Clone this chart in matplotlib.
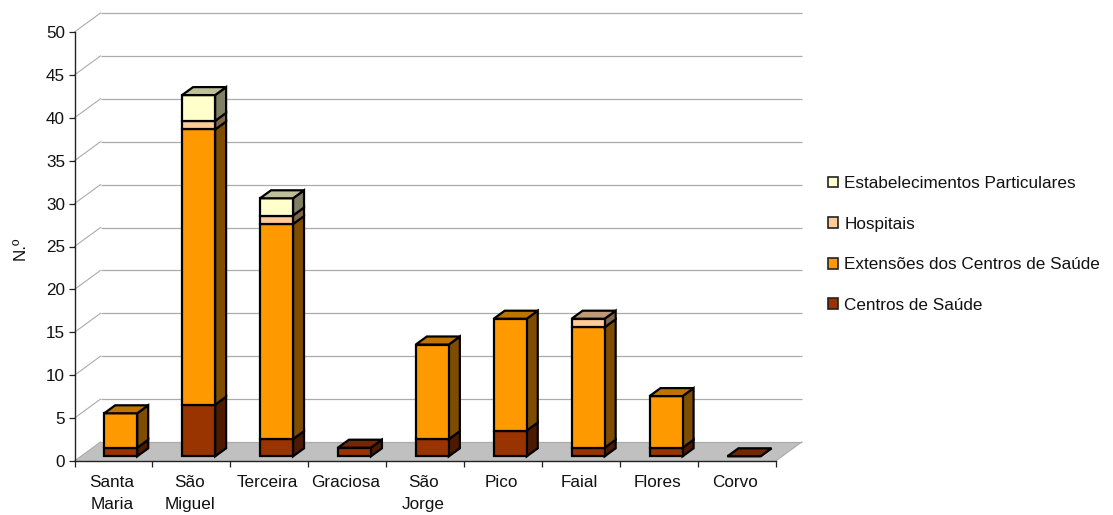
import matplotlib
matplotlib.use("Agg")
import matplotlib.pyplot as plt
from matplotlib.patches import Polygon, Patch
import numpy as np

plt.rcParams['font.family'] = ['Liberation Sans', 'DejaVu Sans']

islands = ["Santa\nMaria", "São\nMiguel", "Terceira", "Graciosa", "São\nJorge",
           "Pico", "Faial", "Flores", "Corvo"]
centros = [1, 6, 2, 1, 2, 3, 1, 1, 0]
extensoes = [4, 32, 25, 0, 11, 13, 14, 6, 0]
hospitais = [0, 1, 1, 0, 0, 0, 1, 0, 0]
particulares = [0, 3, 2, 0, 0, 0, 0, 0, 0]

series_names = ["Centros de Saúde", "Extensões dos Centros de Saúde",
                "Hospitais", "Estabelecimentos Particulares"]
series_colors = ["#993300", "#FF9900", "#FFCC99", "#FFFFCC"]
y_ticks = list(range(0, 55, 5))

W, H = 1113, 515
FONT = 12.3
fig = plt.figure(figsize=(W / 100, H / 100), dpi=100, facecolor="white")
left, right, bottom, top = 74.5, 775.7, 461.0, 32.0
ax = fig.add_axes([left / W, 1 - bottom / H, (right - left) / W, (bottom - top) / H])
ax.set_xlim(0, len(islands))
ax.set_ylim(0, 50)
ax.patch.set_visible(False)

ux = (right - left) / len(islands)   # pixels per category
uy = (bottom - top) / 50             # pixels per unit of value

# Depth of the chart box and of the bars, in data units
box_dx, box_dy = 26 / ux, 19 / uy
bar_dx, bar_dy = 11 / ux, 8 / uy
bar_w = 33 / ux
bar_x0 = 29.7 / ux
base = 4.7 / uy
bar_scale = 8.6 / uy


def shade(color, factor):
    rgb = np.array(matplotlib.colors.to_rgb(color)) * factor
    return tuple(rgb)


# Floor of the box
n = len(islands)
ax.add_patch(Polygon([(0, 0), (n, 0), (n + box_dx, box_dy), (box_dx, box_dy)],
                     closed=True, fc="#C0C0C0", ec="none", clip_on=False, zorder=1))

# Back wall gridlines and their diagonal runs on the side wall
for v in y_ticks:
    ax.plot([box_dx, n + box_dx], [v + box_dy, v + box_dy], color="#ABABAB", lw=0.9,
            clip_on=False, zorder=1.5, solid_capstyle="butt")
    ax.plot([0, box_dx], [v, v + box_dy], color="#ABABAB", lw=0.8,
            clip_on=False, zorder=1.5)
ax.plot([n, n + box_dx], [0, box_dy], color="#ABABAB", lw=0.8, clip_on=False, zorder=1.5)

stack = [centros, extensoes, hospitais, particulares]
edge = dict(ec="#000000", lw=1.6, closed=True, clip_on=False, joinstyle="miter")

for i in range(n):
    x0 = i + bar_x0
    x1 = x0 + bar_w
    y = base
    last = 0
    for k, vals in enumerate(stack):
        if vals[i] > 0:
            last = k
    for k, vals in enumerate(stack):
        v = vals[i]
        if v == 0 and not (k == 0 and last == 0):
            continue
        y1 = y + v * bar_scale
        c = series_colors[k]
        z = 3 + k * 0.01
        ax.add_patch(Polygon([(x1, y), (x1 + bar_dx, y + bar_dy),
                              (x1 + bar_dx, y1 + bar_dy), (x1, y1)],
                             fc=shade(c, 0.5), zorder=z, **edge))
        ax.add_patch(Polygon([(x0, y), (x1, y), (x1, y1), (x0, y1)],
                             fc=c, zorder=z, **edge))
        if k == last:
            ax.add_patch(Polygon([(x0, y1), (x1, y1), (x1 + bar_dx, y1 + bar_dy),
                                  (x0 + bar_dx, y1 + bar_dy)],
                                 fc=shade(c, 0.75), zorder=z + 0.005, **edge))
        y = y1

# Axes
for s in ("top", "right"):
    ax.spines[s].set_visible(False)
for s in ("left", "bottom"):
    ax.spines[s].set_color("#222222")
    ax.spines[s].set_linewidth(1.0)
    ax.spines[s].set_zorder(2)

ax.set_yticks(y_ticks)
ax.tick_params(axis="y", length=4.3, width=0.9, color="#222222", labelsize=FONT,
               labelcolor="#111111", pad=2.5)
ax.set_xticks(range(n + 1))
ax.set_xticklabels([])
ax.tick_params(axis="x", which="major", length=4.3, width=0.9, color="#222222")
ax.set_xticks(np.arange(n) + 0.48, minor=True)
ax.set_xticklabels(islands, minor=True, fontsize=FONT, color="#111111", linespacing=1.58)
ax.tick_params(axis="x", which="minor", length=0, pad=10.2)
fig.text(20 / W, 1 - 248 / H, "N.º", rotation=90, fontsize=FONT, color="#111111",
         ha="center", va="center")

handles = [Patch(fc=c, ec="#222222", lw=1.2, label=name)
           for c, name in zip(series_colors, series_names)][::-1]
fig.legend(handles=handles, loc="center left", frameon=False, fontsize=FONT,
           bbox_to_anchor=(828 / W, 1 - 244.5 / H), bbox_transform=fig.transFigure,
           borderpad=0, borderaxespad=0, labelspacing=1.5, handlelength=0.6,
           handleheight=0.6, handletextpad=0.36, labelcolor="#111111")

fig.savefig("out.png", dpi=100)
